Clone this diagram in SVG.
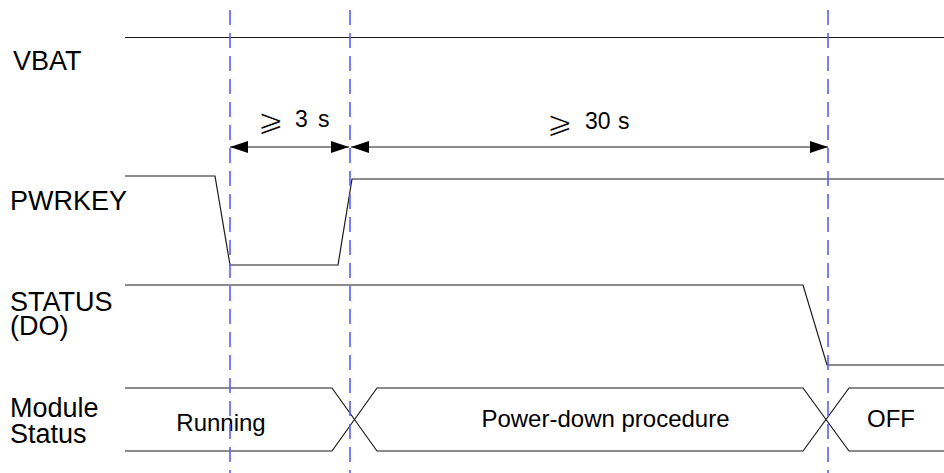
<svg xmlns="http://www.w3.org/2000/svg" width="944" height="473" viewBox="0 0 944 473">
<style>
.sig{fill:none;stroke:#1a1a1a;stroke-width:1.2}
.dash{fill:none;stroke:#5c5cff;stroke-width:1.6;stroke-dasharray:15 8}
.lbl{font-family:"Liberation Sans",Arial,sans-serif;font-size:27px;fill:#000}
.txt{font-family:"Liberation Sans",Arial,sans-serif;font-size:24px;fill:#000}
.tm{font-family:"Liberation Sans",Arial,sans-serif;font-size:23px;fill:#000}
.ge{font-family:"DejaVu Sans",sans-serif;font-size:31px;fill:#000;stroke:#fff;stroke-width:0.8}
.arr{fill:none;stroke:#1a1a1a;stroke-width:1.2}
</style>
<defs>
<marker id="ah" viewBox="0 0 18 12" refX="18" refY="6" markerWidth="18" markerHeight="12" markerUnits="userSpaceOnUse" orient="auto-start-reverse">
<path d="M0,0 L18,6 L0,12 Z" fill="#000"/>
</marker>
</defs>
<rect width="944" height="473" fill="#fff"/>
<g id="labels">
<text class="lbl" x="13" y="70">VBAT</text>
<text class="lbl" x="10" y="210">PWRKEY</text>
<text class="lbl" x="10" y="311">STATUS</text>
<text class="lbl" x="10" y="335">(DO)</text>
<text class="lbl" x="10" y="417">Module</text>
<text class="lbl" x="10" y="443">Status</text>
</g>
<g id="vbat">
<line class="sig" x1="125" y1="37.5" x2="944" y2="37.5"/>
</g>
<g id="pwrkey">
<polyline class="sig" points="125,176 215,176 230,265 338,265 352,179 944,179"/>
</g>
<g id="status">
<polyline class="sig" points="125,285 803,285 827,365 944,365"/>
</g>
<g id="module-status">
<polyline class="sig" points="125,388 332,388 377,451 803,451 849,388 944,388"/>
<polyline class="sig" points="125,451 332,451 377,388 803,388 849,451 944,451"/>
<text class="txt" x="221" y="431" text-anchor="middle">Running</text>
<text class="txt" x="605.5" y="427" text-anchor="middle">Power-down procedure</text>
<text class="txt" x="891" y="427" text-anchor="middle">OFF</text>
</g>
<g id="connectors">
<line class="dash" x1="230" y1="10" x2="230" y2="473"/>
<line class="dash" x1="350" y1="10" x2="350" y2="473"/>
<line class="dash" x1="828" y1="10" x2="828" y2="473"/>
<line class="arr" x1="230" y1="147" x2="349" y2="147" marker-start="url(#ah)" marker-end="url(#ah)"/>
<line class="arr" x1="351" y1="147" x2="828" y2="147" marker-start="url(#ah)" marker-end="url(#ah)"/>
</g>
<g id="timing-labels">
<text class="ge" x="258" y="131">⩾</text>
<text class="tm" x="295" y="127">3</text>
<text class="tm" x="318" y="127">s</text>
<text class="ge" x="547" y="133">⩾</text>
<text class="tm" x="585" y="129">30</text>
<text class="tm" x="618" y="129">s</text>
</g>
</svg>
